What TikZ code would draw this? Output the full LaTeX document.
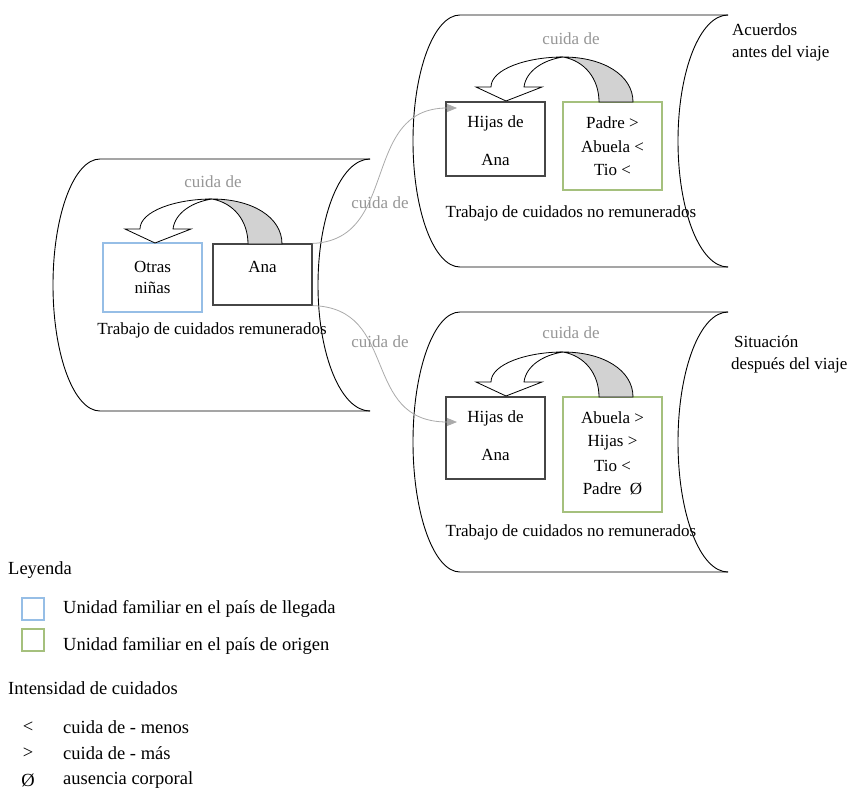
\documentclass[tikz,border=0pt]{standalone}
\usepackage{fontspec}
\setmainfont{Liberation Serif}
\usetikzlibrary{arrows.meta}
\definecolor{blueline}{RGB}{150,190,230}
\definecolor{greenline}{RGB}{165,192,125}
\definecolor{boxdark}{RGB}{70,70,70}
\definecolor{graytext}{RGB}{150,150,150}
\definecolor{conngray}{RGB}{170,170,170}
\definecolor{arrowgray}{RGB}{210,210,210}
\begin{document}
\begin{tikzpicture}[x=1pt,y=-1pt,
  cyl/.style={draw=black, line width=0.9pt},
  box/.style={draw=boxdark, line width=1.2pt, minimum width=99pt, minimum height=#1, inner sep=0pt},
  txt/.style={inner sep=0pt, font=\fontsize{17}{21}\selectfont},
  lbl/.style={txt, text=graytext},
  leg/.style={inner sep=0pt, anchor=west, font=\fontsize{18.5}{22}\selectfont},
  conn/.style={draw=conngray, line width=0.8pt, -{Triangle[length=10pt,width=8pt,fill=conngray]}},
  carrow/.pic={
    \filldraw[fill=arrowgray, draw=black, line width=0.8pt]
      (0,0) .. controls (40,0) and (70,18) .. (70,45) -- (36,45)
      .. controls (36,22) and (22,4) .. (0,0) -- cycle;
    \filldraw[fill=white, draw=black, line width=0.8pt]
      (0,0) .. controls (-36,0) and (-72,12) .. (-72,30) -- (-87,30) -- (-57,44)
      -- (-21,30) -- (-39,30) .. controls (-37,14) and (-20,3) .. (0,0) -- cycle;
  }]
\useasboundingbox (0,0) rectangle (851,790);

% ---------- cylinders ----------
% left
\draw[cyl] (370,159) -- (100,159) .. controls (74,159) and (53,215) .. (53,285)
  .. controls (53,355) and (74,411) .. (100,411) -- (370,411);
\draw[cyl] (370,159) .. controls (341,159) and (318,215) .. (318,285)
  .. controls (318,355) and (341,411) .. (370,411);
% top right
\draw[cyl] (728,15) -- (460,15) .. controls (434,15) and (413,71) .. (413,141)
  .. controls (413,211) and (434,267) .. (460,267) -- (728,267);
\draw[cyl] (728,15) .. controls (700,15) and (678,71) .. (678,141)
  .. controls (678,211) and (700,267) .. (728,267);
% bottom right
\draw[cyl] (728,312) -- (460,312) .. controls (434,312) and (413,370) .. (413,442)
  .. controls (413,514) and (434,572) .. (460,572) -- (728,572);
\draw[cyl] (728,312) .. controls (700,312) and (678,370) .. (678,442)
  .. controls (678,514) and (700,572) .. (728,572);

% ---------- boxes ----------
\node[box=69pt, draw=blueline] (otras) at (152.5,277.5) {};
\node[box=61pt] (ana) at (262.5,274.5) {};
\node[box=74pt] (hijasT) at (495.5,139) {};
\node[box=88pt, draw=greenline] (famT) at (612.5,146) {};
\node[box=82pt] (hijasB) at (495.5,438) {};
\node[box=115pt, draw=greenline] (famB) at (612.5,454.5) {};

% ---------- curved "cuida de" arrows ----------
\pic at (212,199) {carrow};
\pic at (563,57) {carrow};
\pic at (563,352) {carrow};

% ---------- connectors ----------
\coordinate (tipT) at (457,108);
\coordinate (tipB) at (457,422);
\draw[conn] (ana.north east) .. controls (400,240) and (360,108) .. (tipT);
\draw[conn] (ana.south east) .. controls (400,308) and (360,422) .. (tipB);

% ---------- texts ----------
\node[txt] (t1) at (152.5,267) {Otras};
\node[txt] (t2) at (152.5,288) {niñas};
\node[txt] (t3) at (262.5,267) {Ana};
\node[txt] (t4) at (212,330) {Trabajo de cuidados remunerados};
\node[lbl] (l1) at (213,182) {cuida de};

\node[txt] (t5) at (495.5,123) {Hijas de};
\node[txt] (t6) at (495.5,160) {Ana};
\node[txt] (t7) at (612.5,123) {Padre >};
\node[txt] (t8) at (612.5,147) {Abuela <};
\node[txt] (t9) at (612.5,170) {Tio <};
\node[txt] (t10) at (571,213) {Trabajo de cuidados no remunerados};
\node[lbl] (l2) at (571,39) {cuida de};
\node[txt, anchor=west] (t11) at (732,30) {Acuerdos};
\node[txt, anchor=west] (t12) at (732,53) {antes del viaje};

\node[txt] (t13) at (495.5,418) {Hijas de};
\node[txt] (t14) at (495.5,455) {Ana};
\node[txt] (t15) at (612.5,418) {Abuela >};
\node[txt] (t16) at (612.5,443) {Hijas >};
\node[txt] (t17) at (612.5,466) {Tio <};
\node[txt] (t18) at (612.5,489) {Padre~~Ø};
\node[txt] (t19) at (571,532) {Trabajo de cuidados no remunerados};
\node[lbl] (l3) at (571,333) {cuida de};
\node[txt, anchor=west] (t20) at (734,342) {Situación};
\node[txt, anchor=west] (t21) at (731,365) {después del viaje};

\node[lbl] (l4) at (380,203) {cuida de};
\node[lbl] (l5) at (380,342) {cuida de};

% ---------- legend ----------
\node[leg] (g1) at (8,570) {Leyenda};
\node[draw=blueline, line width=1.2pt, minimum size=22pt, inner sep=0pt] (sqB) at (33,609) {};
\node[draw=greenline, line width=1.2pt, minimum size=22pt, inner sep=0pt] (sqG) at (33,640) {};
\node[leg] (g2) at (63,609) {Unidad familiar en el país de llegada};
\node[leg] (g3) at (63,646) {Unidad familiar en el país de origen};
\node[leg] (g4) at (8,688) {Intensidad de cuidados};
\node[leg, anchor=center] (s1) at (28,727) {<};
\node[leg, anchor=center] (s2) at (28,753) {>};
\node[leg, anchor=center] (s3) at (28,780) {Ø};
\node[leg] (g5) at (63,727) {cuida de - menos};
\node[leg] (g6) at (63,753) {cuida de - más};
\node[leg] (g7) at (63,780) {ausencia corporal};
\end{tikzpicture}
\end{document}
